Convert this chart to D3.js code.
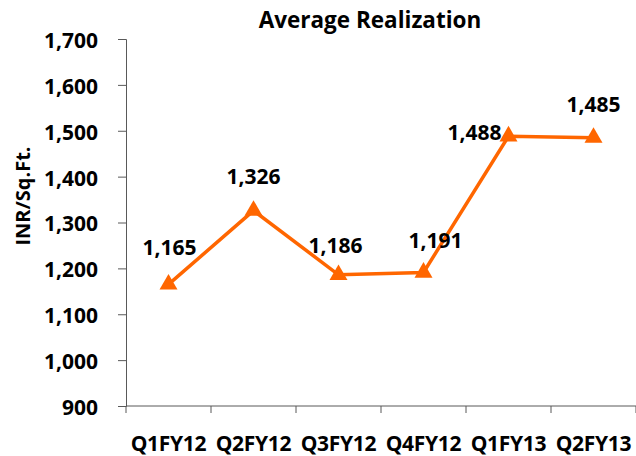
<!DOCTYPE html>
<html>
<head>
<meta charset="utf-8">
<script src="https://cdn.jsdelivr.net/npm/d3@7"></script>
<style>
  body { margin: 0; background: #fff; }
  text { font-family: "Open Sans", "Liberation Sans", sans-serif; font-weight: bold; fill: #000; }
</style>
</head>
<body>
<div id="chart"></div>
<script>
// chart data
var quarters = ["Q1FY12", "Q2FY12", "Q3FY12", "Q4FY12", "Q1FY13", "Q2FY13"];
var realization = [1165, 1326, 1186, 1191, 1488, 1485];
var yTicks = [900, 1000, 1100, 1200, 1300, 1400, 1500, 1600, 1700];
// hand placed data label offsets (dx, dy) like in the original
var labelOffsets = [[1, -29], [0, -27], [-3, -22], [12, -25], [-34, 4], [0, -26]];

var svgWidth = 636;
var svgHeight = 456;
var margin = { top: 39, right: 0, bottom: 50, left: 126 };
var width = svgWidth - margin.left - margin.right;
var height = svgHeight - margin.top - margin.bottom;
var orange = "#ff6600";
var axisColor = "#595959";
var fontFamily = "'Open Sans', 'Liberation Sans', sans-serif";

var svg = d3.select("#chart")
    .append("svg")
    .attr("width", svgWidth)
    .attr("height", svgHeight);

var chartGroup = svg.append("g")
    .attr("transform", `translate(${margin.left}, ${margin.top})`);

var x = d3.scaleBand()
    .domain(quarters)
    .range([0, width]);

var y = d3.scaleLinear()
    .domain([900, 1700])
    .range([height, 0]);

// y axis
var yAxis = d3.axisLeft(y)
    .tickValues(yTicks)
    .tickSize(8)
    .tickPadding(20)
    .tickFormat(d3.format(","));

var yG = chartGroup.append("g").call(yAxis);
yG.select(".domain").attr("stroke", axisColor);
yG.selectAll(".tick line").attr("stroke", axisColor);
yG.selectAll(".tick text")
    .attr("font-size", "21px")
    .attr("font-family", fontFamily)
    .attr("font-weight", "bold")
    .attr("fill", "#000")
    .attr("dy", "0.4em");

// x axis line with ticks at category boundaries
chartGroup.append("line")
    .attr("x1", 0).attr("x2", width)
    .attr("y1", height).attr("y2", height)
    .attr("stroke", axisColor);

var bounds = quarters.map(d => x(d)).concat([width]);
chartGroup.selectAll(".xtick")
    .data(bounds)
    .enter()
    .append("line")
    .attr("class", "xtick")
    .attr("x1", d => d).attr("x2", d => d)
    .attr("y1", height).attr("y2", height + 7)
    .attr("stroke", axisColor);

chartGroup.selectAll(".xlabel")
    .data(quarters)
    .enter()
    .append("text")
    .attr("class", "xlabel")
    .attr("x", d => x(d) + x.bandwidth() / 2)
    .attr("y", height + 45)
    .attr("text-anchor", "middle")
    .attr("font-size", "21px")
    .attr("letter-spacing", "-0.3px")
    .text(d => d);

// line + markers
var points = quarters.map((q, i) => ({ q: q, v: realization[i], off: labelOffsets[i] }));

var line = d3.line()
    .x(d => x(d.q) + x.bandwidth() / 2)
    .y(d => y(d.v));

chartGroup.append("path")
    .datum(points)
    .attr("d", line)
    .attr("fill", "none")
    .attr("stroke", orange)
    .attr("stroke-width", 3.5);

chartGroup.selectAll(".marker")
    .data(points)
    .enter()
    .append("path")
    .attr("class", "marker")
    .attr("d", d3.symbol().type(d3.symbolTriangle).size(140))
    .attr("transform", d => `translate(${x(d.q) + x.bandwidth() / 2}, ${y(d.v)})`)
    .attr("fill", orange);

chartGroup.selectAll(".dlabel")
    .data(points)
    .enter()
    .append("text")
    .attr("class", "dlabel")
    .attr("x", d => x(d.q) + x.bandwidth() / 2 + d.off[0])
    .attr("y", d => y(d.v) + d.off[1])
    .attr("text-anchor", "middle")
    .attr("font-size", "21px")
    .text(d => d3.format(",")(d.v));

// titles
svg.append("text")
    .attr("x", 370)
    .attr("y", 28)
    .attr("text-anchor", "middle")
    .attr("font-size", "22.5px")
    .text("Average Realization");

svg.append("text")
    .attr("transform", "rotate(-90)")
    .attr("x", -196)
    .attr("y", 30)
    .attr("text-anchor", "middle")
    .attr("font-size", "20px")
    .text("INR/Sq.Ft.");
</script>
</body>
</html>
